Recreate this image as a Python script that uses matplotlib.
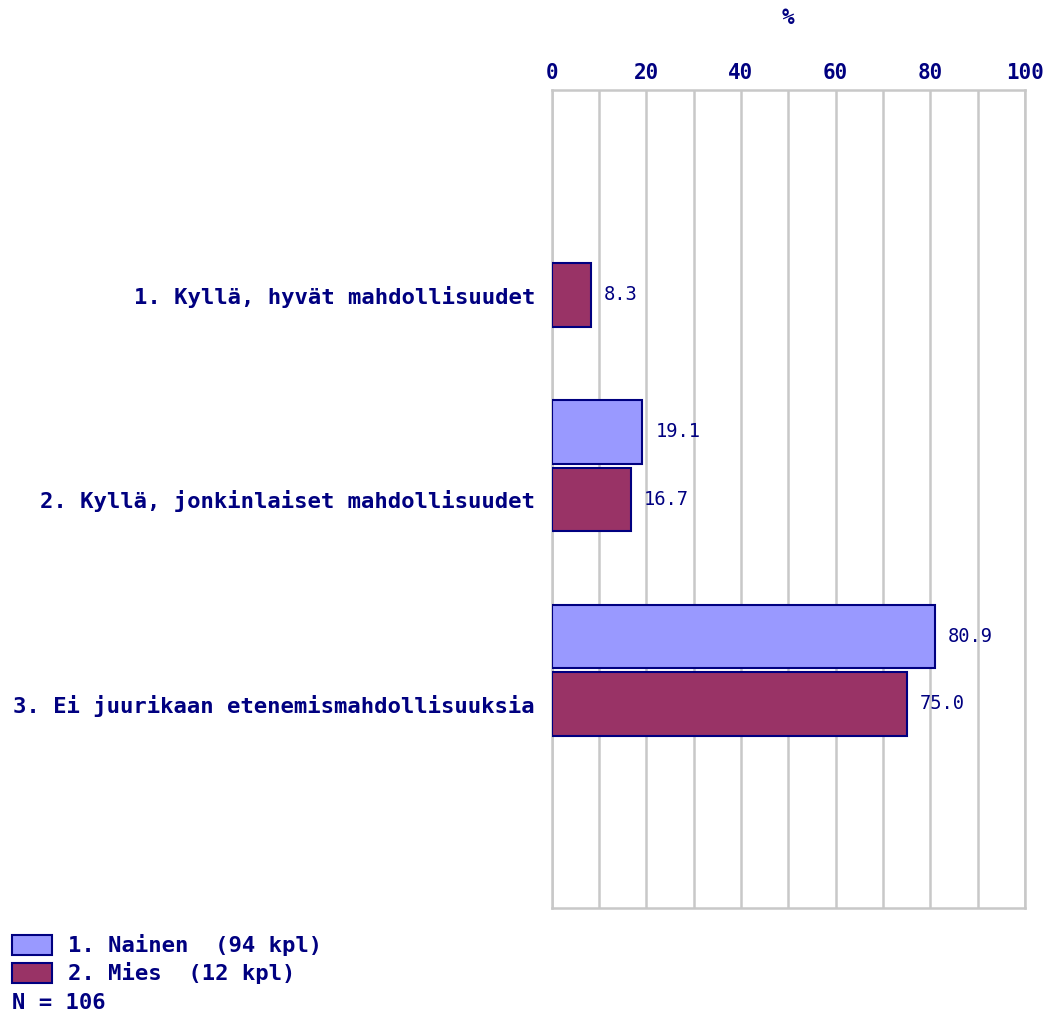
import numpy as np
import matplotlib
matplotlib.use("Agg")
import matplotlib.pyplot as plt
from matplotlib.patches import Rectangle

categories = [
    "1. Kyllä, hyvät mahdollisuudet",
    "2. Kyllä, jonkinlaiset mahdollisuudet",
    "3. Ei juurikaan etenemismahdollisuuksia",
]
nainen = [0.0, 19.1, 80.9]
mies = [8.3, 16.7, 75.0]
series_labels = ["1. Nainen  (94 kpl)", "2. Mies  (12 kpl)"]
n_total = 106
xticks = [0, 20, 40, 60, 80, 100]

NAVY = "#000080"
C_NAINEN = "#9999FF"
C_MIES = "#993366"
GRID = "#c8c8c8"
MONO = "DejaVu Sans Mono"

fig = plt.figure(figsize=(10.49, 10.15), dpi=100)
ax = fig.add_axes([0.526, 0.105, 0.977 - 0.526, 0.911 - 0.105])

pos = np.arange(1, len(categories) + 1)
h = 0.31
off = 0.33

for p, v in zip(pos, nainen):
    if v > 0:
        ax.barh(p - off, v, height=h, color=C_NAINEN, edgecolor=NAVY, linewidth=1.5, zorder=3)
        ax.annotate(f"{v:.1f}", (v, p - off), xytext=(9.5, 0), textcoords="offset points",
                    va="center", ha="left", color=NAVY, fontsize=13.5, family=MONO)
for p, v in zip(pos, mies):
    if v > 0:
        ax.barh(p, v, height=h, color=C_MIES, edgecolor=NAVY, linewidth=1.5, zorder=3)
        ax.annotate(f"{v:.1f}", (v, p), xytext=(9.5, 0), textcoords="offset points",
                    va="center", ha="left", color=NAVY, fontsize=13.5, family=MONO)

ax.set_xlim(0, 100)
ax.set_ylim(4, 0)
ax.set_xticks(xticks)
ax.set_xticks(np.arange(0, 101, 10), minor=True)
ax.xaxis.tick_top()
ax.tick_params(axis="x", which="both", length=0, pad=5, labelsize=15, labelcolor=NAVY)
for lab in ax.get_xticklabels():
    lab.set_fontweight("bold")
    lab.set_family(MONO)
ax.grid(True, axis="x", which="both", color=GRID, linewidth=1.8, zorder=0)

ax.set_yticks(pos)
ax.set_yticklabels(categories)
ax.tick_params(axis="y", length=0, pad=12, labelsize=16, labelcolor=NAVY)
for lab in ax.get_yticklabels():
    lab.set_fontweight("bold")
    lab.set_family(MONO)

for s in ax.spines.values():
    s.set_color(GRID)
    s.set_linewidth(1.8)

fig.text(0.7515, 1 - 18 / 1015, "%", ha="center", va="center", color=NAVY,
         fontsize=15, fontweight="bold", family=MONO)

# legend drawn in figure pixels
W, H = 1049, 1015
for i, (lab, col) in enumerate(zip(series_labels, [C_NAINEN, C_MIES])):
    y = 945 + i * 28
    fig.patches.append(Rectangle((12 / W, 1 - (y + 10) / H), 40 / W, 20 / H,
                                 transform=fig.transFigure, facecolor=col,
                                 edgecolor=NAVY, linewidth=1.5))
    fig.text(68 / W, 1 - y / H, lab, ha="left", va="center", color=NAVY,
             fontsize=16, fontweight="bold", family=MONO)
fig.text(12 / W, 1 - 1003 / H, f"N = {n_total}", ha="left", va="center", color=NAVY,
         fontsize=16, fontweight="bold", family=MONO)

fig.savefig("out.png", dpi=100, facecolor="white")
